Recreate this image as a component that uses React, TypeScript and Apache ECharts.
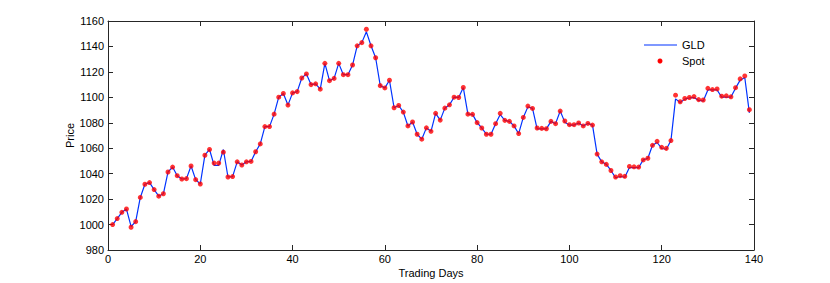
import React, { useEffect, useRef } from "react";
import * as echarts from "echarts";

const spot: number[] = [
  1000, 1004.7, 1009.6, 1012.2, 997.9, 1002.3, 1021.3, 1031.7, 1033, 1027.5,
  1022.3, 1024.2, 1041.3, 1045.2, 1038.4, 1035.8, 1036.1, 1046, 1035.3, 1031.9,
  1054.5, 1059, 1048.3, 1048.3, 1056.9, 1037.4, 1037.7, 1049.3, 1046.8, 1049.3,
  1049.6, 1057.2, 1063.4, 1077, 1077, 1086.8, 1100.1, 1103, 1093.9, 1103.5,
  1104.5, 1115.2, 1118.4, 1110, 1110.6, 1106.4, 1126.7, 1113.1, 1114.9, 1126.7,
  1117.8, 1117.8, 1125.4, 1140.5, 1143, 1153.5, 1140.5, 1131.1, 1109.2, 1107.4,
  1113.4, 1091.8, 1093.6, 1088.4, 1077.5, 1080.6, 1071, 1067.1, 1076, 1073.3,
  1087.4, 1082.1, 1091.5, 1094.1, 1100.1, 1099.9, 1107.7, 1086.8, 1086.6, 1080.1,
  1075.9, 1071, 1071, 1079.3, 1087.4, 1081.9, 1081.1, 1077.5, 1071.5, 1084.2,
  1093.1, 1091.3, 1075.9, 1075.6, 1075.3, 1081.1, 1079.3, 1089.2, 1081.4, 1078.5,
  1078.5, 1079.8, 1077.5, 1079.5, 1078.2, 1055.4, 1049.3, 1047.3, 1042.5, 1037.4,
  1038.4, 1037.9, 1045.7, 1045.4, 1045.2, 1050.8, 1052.1, 1062.3, 1065.4, 1060.7,
  1059.9, 1066, 1101.7, 1096.5, 1099.1, 1099.9, 1100.6, 1098.2, 1097.9, 1107.1,
  1106.1, 1106.6, 1100.9, 1101.2, 1100.4, 1107.6, 1114.5, 1116.8, 1090.3,
];

const gld: number[] = [
  1000, 1004.7, 1009.6, 1012.2, 998.5, 1002.3, 1021.3, 1031.7, 1033, 1027.5,
  1022.3, 1024.2, 1041.3, 1045.2, 1038.4, 1035.8, 1036.1, 1046, 1035.3, 1031.9,
  1054.5, 1059, 1046.5, 1046.5, 1059, 1037.4, 1037.7, 1049.3, 1046.8, 1049.3,
  1049.6, 1057.2, 1063.4, 1077, 1077, 1086.8, 1100.1, 1103, 1093.9, 1103.5,
  1104.5, 1115.2, 1118.4, 1110, 1110.6, 1106.4, 1126.7, 1113.1, 1114.9, 1126.7,
  1117.8, 1117.8, 1125.4, 1140.5, 1143, 1151.5, 1140.5, 1131.1, 1109.2, 1107.4,
  1113.4, 1091.8, 1093.6, 1088.4, 1077.5, 1080.6, 1071, 1067.1, 1076, 1073.3,
  1087.4, 1082.1, 1091.5, 1094.1, 1100.1, 1099.9, 1107.7, 1086.8, 1086.6, 1080.1,
  1075.9, 1071, 1071, 1079.3, 1086.5, 1081.9, 1081.1, 1077.5, 1071.5, 1084.2,
  1092.5, 1091.3, 1075.2, 1075.2, 1075.2, 1081.1, 1079.3, 1089.2, 1080.5, 1078.2,
  1078.2, 1079.8, 1077.5, 1079.5, 1078.2, 1055.4, 1049.3, 1047.3, 1042.5, 1036.8,
  1037.8, 1037.2, 1044.8, 1044.8, 1044.8, 1050.8, 1052.1, 1062.3, 1064.5, 1059.8,
  1059.2, 1066, 1098.8, 1096, 1098.6, 1099.5, 1099.8, 1097.6, 1097.2, 1105.8,
  1105.8, 1105.8, 1100.2, 1100.2, 1100.2, 1107.2, 1113.5, 1115.6, 1087.8,
];

const xTicks = { min: 0, max: 140, interval: 20 };
const yTicks = { min: 980, max: 1160, interval: 20 };

const FONT = "'Liberation Sans', Arial, Helvetica, sans-serif";

export default function App() {
  const ref = useRef<HTMLDivElement>(null);
  useEffect(() => {
    if (!ref.current) return;
    const chart = echarts.init(ref.current, null, { renderer: "svg" });
    const gldData = gld.map((v, i) => [i + 1, v]);
    const spotData = spot.map((v, i) => [i + 1, v]);
    const axisColor = "#262626";
    const baseAxis = {
      type: "value" as const,
      axisLine: { show: true, onZero: false, lineStyle: { color: axisColor, width: 1 } },
      axisTick: { show: true, inside: true, length: 5, lineStyle: { color: axisColor } },
      splitLine: { show: false },
    };
    const plain = (v: number) => String(v);
    chart.setOption({
      animation: false,
      backgroundColor: "#ffffff",
      grid: { left: 108, right: 76, top: 21, bottom: 31, containLabel: false },
      xAxis: [
        {
          ...baseAxis,
          position: "bottom",
          min: xTicks.min,
          max: xTicks.max,
          interval: xTicks.interval,
          name: "Trading Days",
          nameLocation: "middle",
          nameGap: 17,
          nameMoveOverlap: false,
          nameTextStyle: { fontFamily: FONT, fontSize: 11, color: "#000" },
          axisLabel: { fontFamily: FONT, fontSize: 11, color: "#000", margin: 3, formatter: plain },
        },
        {
          ...baseAxis,
          position: "top",
          min: xTicks.min,
          max: xTicks.max,
          interval: xTicks.interval,
          axisLabel: { show: false },
        },
      ],
      yAxis: [
        {
          ...baseAxis,
          position: "left",
          min: yTicks.min,
          max: yTicks.max,
          interval: yTicks.interval,
          name: "Price",
          nameLocation: "middle",
          nameGap: 33,
          nameMoveOverlap: false,
          nameRotate: 90,
          nameTextStyle: { fontFamily: FONT, fontSize: 11, color: "#000" },
          axisLabel: { fontFamily: FONT, fontSize: 11, color: "#000", margin: 4, formatter: plain },
        },
        {
          ...baseAxis,
          position: "right",
          min: yTicks.min,
          max: yTicks.max,
          interval: yTicks.interval,
          axisLabel: { show: false },
        },
      ],
      series: [
        {
          name: "GLD",
          type: "line",
          data: gldData,
          showSymbol: false,
          symbol: "none",
          lineStyle: { color: "#0033ff", width: 1.2 },
          itemStyle: { color: "#0033ff" },
          z: 2,
        },
        {
          name: "Spot",
          type: "scatter",
          data: spotData,
          symbol: "circle",
          symbolSize: 5,
          itemStyle: { color: "#ff0000" },
          z: 3,
        },
      ],
      graphic: [
        {
          type: "line",
          shape: { x1: 644, y1: 45, x2: 677, y2: 45 },
          style: { stroke: "#0033ff", lineWidth: 1.2 },
        },
        {
          type: "text",
          x: 682,
          y: 45,
          style: { text: "GLD", fontFamily: FONT, fontSize: 11, fill: "#000", verticalAlign: "middle" },
        },
        {
          type: "circle",
          shape: { cx: 660, cy: 61, r: 2.5 },
          style: { fill: "#ff0000" },
        },
        {
          type: "text",
          x: 682,
          y: 61,
          style: { text: "Spot", fontFamily: FONT, fontSize: 11, fill: "#000", verticalAlign: "middle" },
        },
      ],
    });
    return () => chart.dispose();
  }, []);
  return <div ref={ref} style={{ width: 830, height: 283, position: "absolute", left: 0, top: 0 }} />;
}
